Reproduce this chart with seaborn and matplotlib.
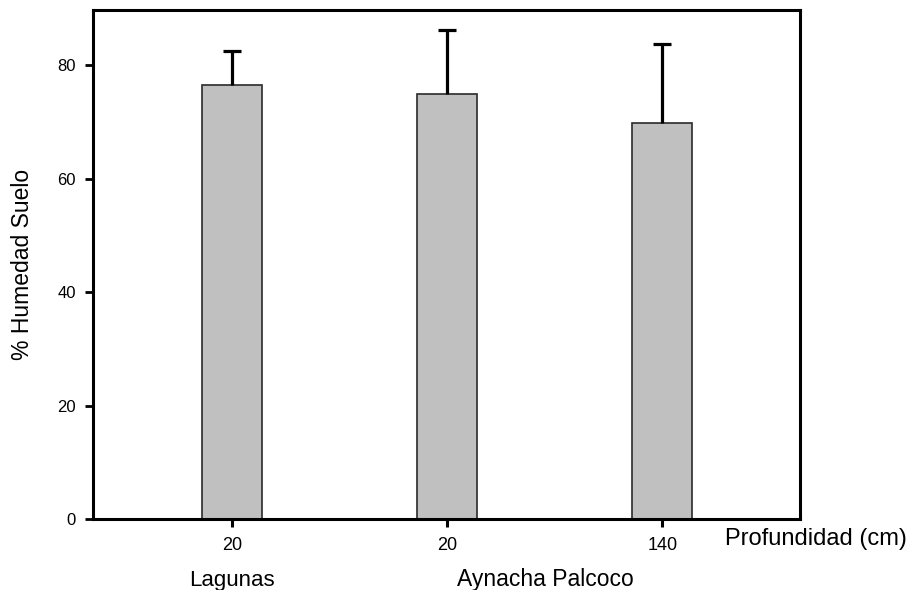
import matplotlib
matplotlib.use("Agg")
import matplotlib.pyplot as plt
import matplotlib.transforms as mtransforms
import seaborn as sns
import pandas as pd

sites = ["Lagunas", "Aynacha Palcoco", "Aynacha Palcoco"]
depth_labels = ["20", "20", "140"]
humidity = [76.5, 74.9, 69.7]
humidity_err = [6.0, 11.2, 14.0]
group_names = ["Lagunas", "Aynacha Palcoco"]
yticks = [0, 20, 40, 60, 80]

sns.set_theme(style="white")
plt.rcParams['font.family'] = ['Liberation Sans', 'DejaVu Sans']
plt.rcParams['text.color'] = 'black'
plt.rcParams['axes.labelcolor'] = 'black'
plt.rcParams['xtick.color'] = 'black'
plt.rcParams['ytick.color'] = 'black'

df = pd.DataFrame({"id": [f"{s}-{d}-{i}" for i, (s, d) in enumerate(zip(sites, depth_labels))],
                   "hum": humidity})

fig = plt.figure(figsize=(9.13, 5.90), dpi=100)
ax = fig.add_axes([93/913, 1-519/590, (800-93)/913, (519-10)/590])

sns.barplot(data=df, x="id", y="hum", color="#c0c0c0", saturation=1,
            width=0.28, edgecolor="#2a2a2a", linewidth=1.2, ax=ax, zorder=2)
pos = list(range(len(humidity)))
_, caplines, _ = ax.errorbar(pos, humidity, yerr=[[0]*len(humidity), humidity_err], fmt="none",
                             ecolor="black", elinewidth=2.3, capsize=6.2, capthick=2.3, zorder=3)
# show only the upper caps
if len(caplines) == 2:
    caplines[0].set_visible(False)

ax.set_xlim(-0.645, 2.64)
ax.set_ylim(0, 89.7)
ax.set_yticks(yticks)
ax.set_yticklabels([str(t) for t in yticks], fontsize=12)
ax.set_xticks(pos)
ax.set_xticklabels(depth_labels, fontsize=13)
ax.set_xlabel("")
ax.set_ylabel("% Humedad Suelo", fontsize=16.5, color="black")
ax.yaxis.set_label_coords(-0.084, 0.5)
for s in ax.spines.values():
    s.set_linewidth(2.2)
    s.set_color("black")
ax.tick_params(axis="y", direction="out", length=6, width=2, color="black",
               pad=6.5, labelcolor="black", left=True)
ax.tick_params(axis="x", direction="out", length=6, width=2.2, color="black",
               pad=7, labelcolor="black", bottom=True)

# group labels beneath tick labels
blend = mtransforms.blended_transform_factory(ax.transData, fig.transFigure)
ax.text(0, 1-586/590, group_names[0], transform=blend,
        ha="center", va="baseline", fontsize=16, color="black")
ax.text(1.456, 1-586/590, group_names[1], transform=blend,
        ha="center", va="baseline", fontsize=16.5, color="black")
fig.text(725/913, 1-545/590, "Profundidad (cm)", ha="left", va="baseline",
         fontsize=17, color="black")

fig.savefig("out.png", dpi=100)
